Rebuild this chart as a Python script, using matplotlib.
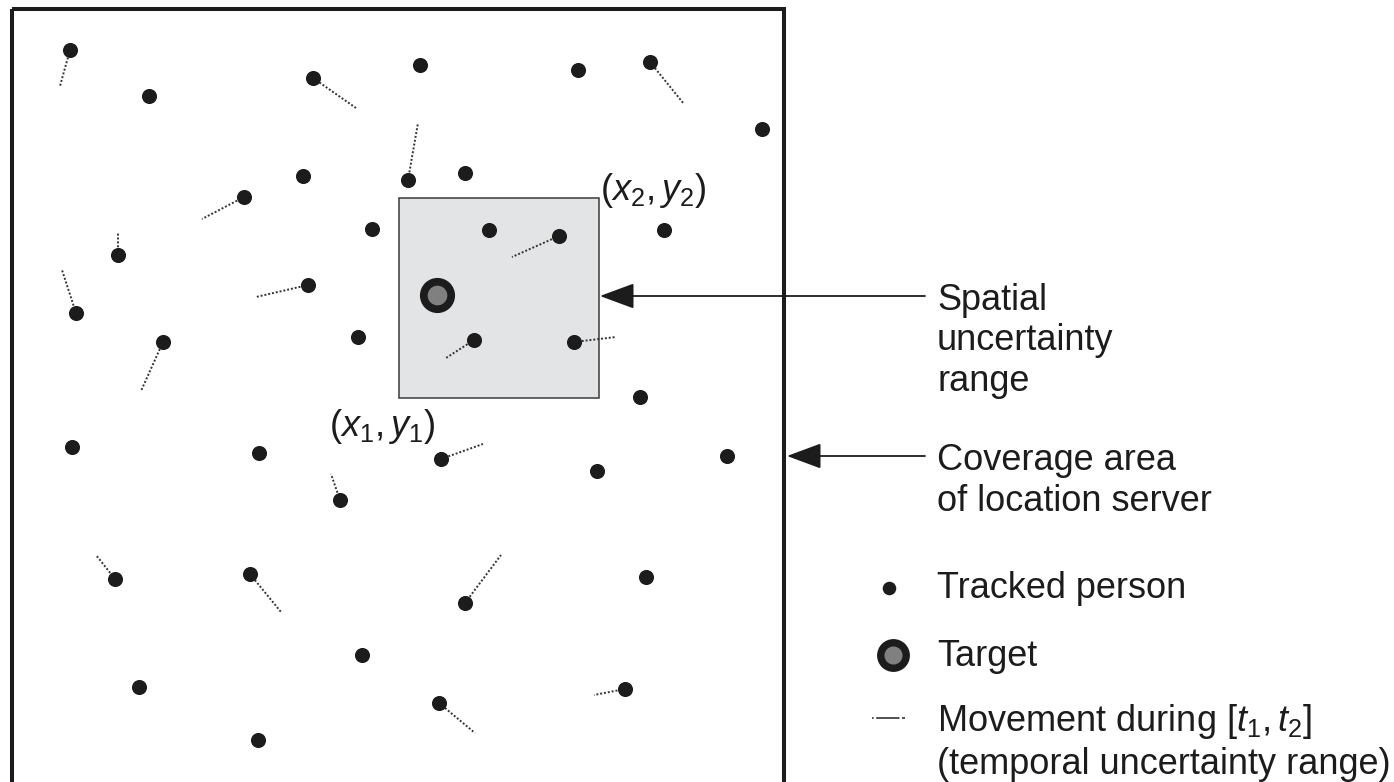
import matplotlib
matplotlib.use('Agg')
import matplotlib.pyplot as plt
from matplotlib.patches import Rectangle
import numpy as np

plt.rcParams['font.family'] = ['Liberation Sans', 'DejaVu Sans']
plt.rcParams['mathtext.fontset'] = 'custom'
plt.rcParams['mathtext.rm'] = 'Liberation Sans'
plt.rcParams['mathtext.it'] = 'Liberation Sans:italic'

# tracked people (pixel coords of the original figure) and where they moved to
person_x = [70, 149, 313, 420, 578, 650, 762, 303, 244, 408, 465, 372, 489, 559, 664,
            118, 76, 308, 163, 358, 474, 574, 640, 72, 259, 441, 597, 727, 340,
            115, 250, 465, 646, 362, 139, 439, 625, 258]
person_y = [50, 96, 78, 65, 70, 62, 129, 176, 197, 180, 173, 229, 230, 236, 230,
            255, 313, 285, 342, 337, 340, 342, 397, 447, 453, 459, 471, 456, 500,
            579, 574, 603, 577, 655, 687, 703, 689, 740]
move_x = [60, None, 356, None, None, 684, None, None, 202, 418, None, None, None, 512, None,
          118, 62, 256, 141, None, 446, 616, None, None, None, 483, None, None, 331,
          96, 281, 501, None, None, None, 475, 594, None]
move_y = [86, None, 108, None, None, 104, None, None, 219, 123, None, None, None, 257, None,
          233, 270, 297, 391, None, 358, 337, None, None, None, 444, None, None, 474,
          555, 612, 555, None, None, None, 733, 695, None]

target = (437, 295)
box = (399, 198, 599, 398)   # x1, y1(top), x2, y2(bottom)

dark = '#1c1c1c'

fig = plt.figure(figsize=(13.94, 7.82), dpi=100)
ax = fig.add_axes([0, 0, 1, 1])
ax.set_xlim(0, 1394)
ax.set_ylim(782, 0)
ax.axis('off')

# coverage area frame
ax.add_patch(Rectangle((12, 9), 772, 800, fill=False, lw=2.9, edgecolor=dark, zorder=1))

# spatial uncertainty box
ax.add_patch(Rectangle((box[0], box[1]), box[2] - box[0], box[3] - box[1],
                       facecolor='#e3e4e6', edgecolor='#3a3a3a', lw=1.1, zorder=1))

# movement lines
for x0, y0, x1, y1 in zip(person_x, person_y, move_x, move_y):
    if x1 is None:
        continue
    ax.plot([x0, x1], [y0, y1], color='#333333', lw=1.4, ls=(0, (1, 1)), zorder=2)

ax.scatter(person_x, person_y, s=118, color=dark, linewidths=0, zorder=3)

# target
ax.scatter([target[0]], [target[1]], s=640, color=dark, linewidths=0, zorder=3)
ax.scatter([target[0]], [target[1]], s=200, color='#808080', linewidths=0, zorder=4)

# corner labels
ax.text(600, 190, r'$(x_2, y_2)$', fontsize=26, ha='left', va='center', color=dark)
ax.text(329, 427, r'$(x_1, y_1)$', fontsize=26, ha='left', va='center', color=dark)

# arrows
arr = dict(arrowstyle='-|>,head_length=1.08,head_width=0.4', lw=1.3, color=dark,
           shrinkA=0, shrinkB=0, mutation_scale=20)
ax.annotate('', xy=(600, 296), xytext=(925, 296), arrowprops=arr)
ax.annotate('', xy=(787, 456), xytext=(925, 456), arrowprops=arr)

fs = 26
ax.text(937, 341, 'Spatial\nuncertainty\nrange', fontsize=fs, ha='left', va='center',
        linespacing=1.22, color=dark)
ax.text(937, 481, 'Coverage area\nof location server', fontsize=fs, ha='left', va='center',
        linespacing=1.22, color=dark)

# legend
ax.scatter([889], [588], s=95, color=dark, linewidths=0)
ax.text(937, 588, 'Tracked person', fontsize=fs, ha='left', va='center', color=dark)
ax.scatter([893], [655], s=560, color=dark, linewidths=0)
ax.scatter([893], [655], s=170, color='#808080', linewidths=0)
ax.text(937, 656, 'Target', fontsize=fs, ha='left', va='center', color=dark)
ax.plot([872, 905], [718, 718], color='#333333', lw=1.2, ls=(0, (1, 1.5, 14, 1.5, 5, 1)))
ax.text(937, 742, 'Movement during $[t_1, t_2]$\n(temporal uncertainty range)', fontsize=fs,
        ha='left', va='center', linespacing=1.2, color=dark)

fig.savefig('out.png', dpi=100)
